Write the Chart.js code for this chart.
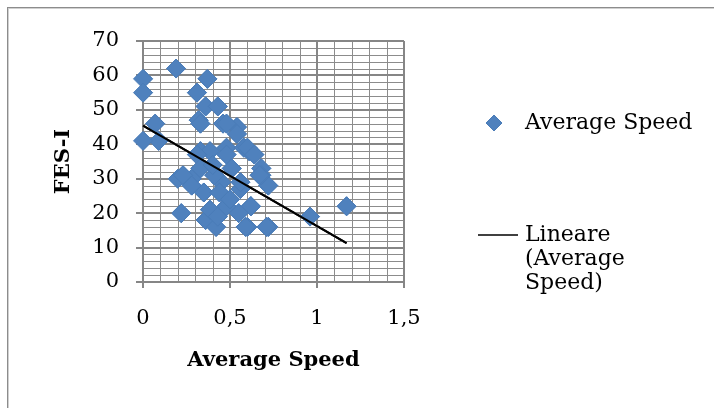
<!DOCTYPE html>
<html>
<head>
<meta charset="utf-8">
<script src="https://cdn.jsdelivr.net/npm/chart.js@4.4.1/dist/chart.umd.min.js"></script>
<style>
  html, body { margin: 0; padding: 0; background: #ffffff; }
  #wrap { position: relative; width: 714px; height: 408px; overflow: hidden; background: #fff; }
  #frame { position: absolute; left: 7px; top: 7px; width: 760px; height: 460px;
           border-left: 1px solid #8c8c8c; border-top: 1px solid #8c8c8c;
           box-shadow: inset 1px 1px 0 #d0d0d0; }
  #c { position: absolute; left: 0; top: 0; }
</style>
</head>
<body>
<div id="wrap">
  <div id="frame"></div>
  <canvas id="c" width="714" height="408"></canvas>
</div>
<script>
// ---- data ----
const speedX = [0, 0, 0.19, 0.37, 0.31, 0.07, 0.09, 0, 0.36, 0.43, 0.32, 0.33, 0.46, 0.54,
  0.33, 0.48, 0.58, 0.68, 0.72, 0.68, 1.17, 0.96, 0.72, 0.62, 0.60, 0.61, 0.22, 0.20,
  0.28, 0.35, 0.36, 0.42, 0.45, 0.48, 0.55, 0.59, 0.62, 0.71, 0.67, 0.56, 0.385, 0.43,
  0.48, 0.54, 0.385, 0.48, 0.60, 0.64, 0.31, 0.23, 0.33, 0.41, 0.51, 0.56, 0.35, 0.44,
  0.28, 0.40, 0.50];
const fesY = [59, 55, 62, 59, 55, 46, 41, 41, 51, 51, 47, 46, 46, 45,
  38, 39, 39, 33, 28, 31, 22, 19, 16, 22, 16, 38, 20, 30,
  30, 26, 18, 16, 29, 22, 20, 16, 22, 16, 31, 27, 21, 19,
  46, 43, 38, 37, 39, 37, 37, 31, 33, 31, 33, 29, 26, 26,
  28, 34, 24];
const trendX = [0, 1.17];
const trendY = [45.4, 11.3];
const xTicks = [0, 0.5, 1, 1.5];
const xTickLabels = ['0', '0,5', '1', '1,5'];
const yTicks = [0, 10, 20, 30, 40, 50, 60, 70];
const yTickLabels = ['0', '10', '20', '30', '40', '50', '60', '70'];
const seriesLabel = 'Average Speed';
const trendLabel = ['Lineare', '(Average', 'Speed)'];
const xTitle = 'Average Speed';
const yTitle = 'FES-I';

// ---- styling ----
const FONT = '"DejaVu Serif", "Liberation Serif", serif';
const BLUE = '#4f81bd';
const BLUE_EDGE = '#4a7cb8';
const MAJOR = '#868686';
const MINOR = '#8c8c8c';

function near(v, arr) {
  const n = Number(v);
  for (let i = 0; i < arr.length; i++) if (Math.abs(n - arr[i]) < 1e-6) return i;
  return -1;
}

// grid lines and tick marks, placed through the chart's own scales
function drawGrid(chart) {
  const ctx = chart.ctx;
  const xs = chart.scales.x, ys = chart.scales.y;
  const left = Math.round(xs.getPixelForValue(xs.min)), right = Math.round(xs.getPixelForValue(xs.max));
  const bottom = Math.round(ys.getPixelForValue(ys.min)), top = Math.round(ys.getPixelForValue(ys.max));
  const xVals = [], yVals = [];
  for (let i = 0; i < xs.ticks.length; i++) xVals.push(xs.ticks[i].value);
  for (let i = 0; i < ys.ticks.length; i++) yVals.push(ys.ticks[i].value);
  ctx.save();
  ctx.globalCompositeOperation = 'source-over';
  [false, true].forEach(function (major) {
    ctx.strokeStyle = major ? MAJOR : MINOR;
    ctx.lineWidth = major ? 2 : 1;
    const off = major ? 0 : 0.5;
    xVals.forEach(function (v) {
      if ((near(v, xTicks) >= 0) !== major) return;
      const px = Math.round(xs.getPixelForValue(v)) + off;
      ctx.beginPath();
      ctx.moveTo(px, top);
      ctx.lineTo(px, bottom + (major ? 6 : 0));
      ctx.stroke();
    });
    yVals.forEach(function (v) {
      if ((near(v, yTicks) >= 0) !== major) return;
      const py = Math.round(ys.getPixelForValue(v)) + off;
      ctx.beginPath();
      ctx.moveTo(left - (major ? 7 : 0), py);
      ctx.lineTo(right, py);
      ctx.stroke();
    });
  });
  ctx.restore();
}

function drawLegend(chart) {
  const ctx = chart.ctx;
  ctx.save();
  const dx = 494, dy = 123, r = 8;
  ctx.beginPath();
  ctx.moveTo(dx - r, dy); ctx.lineTo(dx, dy - r); ctx.lineTo(dx + r, dy); ctx.lineTo(dx, dy + r);
  ctx.closePath();
  ctx.fillStyle = BLUE; ctx.fill();
  ctx.strokeStyle = BLUE_EDGE; ctx.lineWidth = 1; ctx.stroke();
  ctx.font = '22px ' + FONT;
  ctx.fillStyle = '#000';
  ctx.textBaseline = 'middle';
  ctx.textAlign = 'left';
  ctx.fillText(chart.data.datasets[0].label, 525, 123);
  ctx.beginPath();
  ctx.moveTo(478, 235); ctx.lineTo(518, 235);
  ctx.strokeStyle = '#000'; ctx.lineWidth = 1.5; ctx.stroke();
  const lines = chart.data.datasets[1].legendLines;
  lines.forEach(function (t, i) { ctx.fillText(t, 525, 235 + i * 24); });
  ctx.restore();
}

const decorPlugin = {
  id: 'decor',
  afterDatasetsDraw(chart) {
    drawGrid(chart);
    // the marks go back on top of the grid, drawn again by their own controllers
    const metas = chart.getSortedVisibleDatasetMetas();
    for (let i = metas.length - 1; i >= 0; --i) metas[i].controller.draw();
  },
  afterDraw(chart) {
    drawLegend(chart);
  }
};

new Chart(document.getElementById('c'), {
  type: 'scatter',
  data: {
    datasets: [
      {
        label: seriesLabel,
        data: speedX.map(function (x, i) { return { x: x, y: fesY[i] }; }),
        pointStyle: 'rectRot',
        pointRadius: 9.5,
        pointHoverRadius: 9.5,
        backgroundColor: BLUE,
        borderColor: BLUE_EDGE,
        borderWidth: 1,
        order: 2
      },
      {
        label: trendLabel.join(' '),
        legendLines: trendLabel,
        type: 'line',
        data: trendX.map(function (x, i) { return { x: x, y: trendY[i] }; }),
        borderColor: '#000000',
        borderWidth: 2,
        pointRadius: 0,
        showLine: true,
        fill: false,
        order: 1
      }
    ]
  },
  options: {
    responsive: false,
    devicePixelRatio: 1,
    animation: false,
    events: [],
    layout: { padding: { left: 0, top: 41, right: 310, bottom: 0 } },
    plugins: { legend: { display: false }, tooltip: { enabled: false } },
    scales: {
      x: {
        type: 'linear',
        min: 0, max: 1.5,
        afterFit: function (s) { s.height = 126; },
        ticks: {
          stepSize: 0.1, autoSkip: false, maxRotation: 0, padding: 18,
          color: '#000', font: { family: FONT, size: 21 },
          callback: function (v) { const i = near(v, xTicks); return i >= 0 ? xTickLabels[i] : ''; }
        },
        grid: { display: false, tickLength: 6 },
        border: { display: false },
        title: {
          display: true, text: xTitle, color: '#000',
          font: { family: FONT, size: 21, weight: 'bold' },
          padding: { top: 0, bottom: 35 }
        }
      },
      y: {
        type: 'linear',
        min: 0, max: 70,
        afterFit: function (s) { s.width = 143; },
        ticks: {
          stepSize: 2, autoSkip: false, padding: 17,
          color: '#000', font: { family: FONT, size: 21 },
          callback: function (v) { const i = near(v, yTicks); return i >= 0 ? yTickLabels[i] : ''; }
        },
        grid: { display: false, tickLength: 7 },
        border: { display: false },
        title: {
          display: true, text: yTitle, color: '#000',
          font: { family: FONT, size: 21, weight: 'bold' },
          padding: { top: 51, bottom: 0 }
        }
      }
    }
  },
  plugins: [decorPlugin]
});
</script>
</body>
</html>
